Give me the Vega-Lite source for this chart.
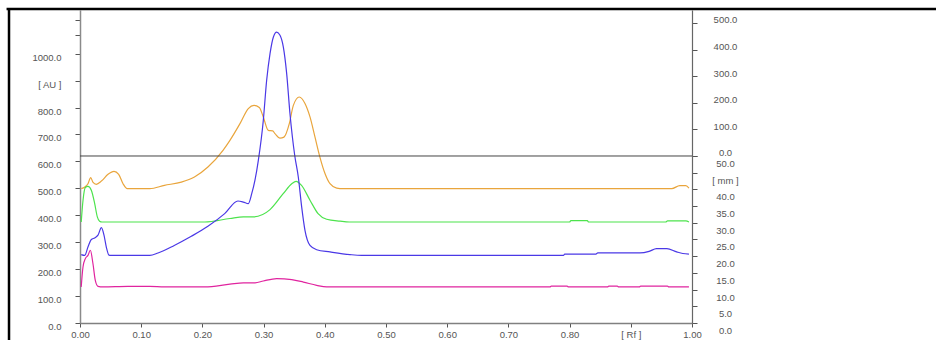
{
  "$schema": "https://vega.github.io/schema/vega-lite/v6.json",
  "width": 612,
  "height": 313,
  "autosize": "none",
  "padding": {"left": 80, "top": 10, "right": 244, "bottom": 17},
  "background": "white",
  "config": {
    "view": {"stroke": null},
    "axis": {"labelFont": "Liberation Sans", "labelFontSize": 9.5, "labelColor": "#555555", "grid": false, "title": null, "labelOverlap": false, "labelFlush": false, "labelBound": false, "tickColor": "#555555"}
  },
  "datasets": {
    "curves": [
      {"track": "orange", "rf": 0.002, "au": 499}, {"track": "orange", "rf": 0.008, "au": 505}, {"track": "orange", "rf": 0.013, "au": 517}, {"track": "orange", "rf": 0.0175, "au": 540}, {"track": "orange", "rf": 0.021, "au": 523}, {"track": "orange", "rf": 0.0267, "au": 515}, {"track": "orange", "rf": 0.035, "au": 527}, {"track": "orange", "rf": 0.0458, "au": 552}, {"track": "orange", "rf": 0.0556, "au": 563}, {"track": "orange", "rf": 0.0632, "au": 552}, {"track": "orange", "rf": 0.0703, "au": 517}, {"track": "orange", "rf": 0.0773, "au": 499}, {"track": "orange", "rf": 0.114, "au": 499}, {"track": "orange", "rf": 0.138, "au": 511}, {"track": "orange", "rf": 0.1656, "au": 523}, {"track": "orange", "rf": 0.187, "au": 542}, {"track": "orange", "rf": 0.209, "au": 579}, {"track": "orange", "rf": 0.2337, "au": 641}, {"track": "orange", "rf": 0.245, "au": 678}, {"track": "orange", "rf": 0.2614, "au": 740}, {"track": "orange", "rf": 0.275, "au": 796}, {"track": "orange", "rf": 0.2843, "au": 808}, {"track": "orange", "rf": 0.293, "au": 800}, {"track": "orange", "rf": 0.2995, "au": 765}, {"track": "orange", "rf": 0.3077, "au": 715}, {"track": "orange", "rf": 0.3148, "au": 713}, {"track": "orange", "rf": 0.3186, "au": 703}, {"track": "orange", "rf": 0.3268, "au": 686}, {"track": "orange", "rf": 0.3333, "au": 690}, {"track": "orange", "rf": 0.342, "au": 740}, {"track": "orange", "rf": 0.3486, "au": 808}, {"track": "orange", "rf": 0.3583, "au": 839}, {"track": "orange", "rf": 0.3676, "au": 815}, {"track": "orange", "rf": 0.3758, "au": 765}, {"track": "orange", "rf": 0.384, "au": 690}, {"track": "orange", "rf": 0.392, "au": 616}, {"track": "orange", "rf": 0.4003, "au": 555}, {"track": "orange", "rf": 0.4085, "au": 517}, {"track": "orange", "rf": 0.4194, "au": 501}, {"track": "orange", "rf": 0.43, "au": 499}, {"track": "orange", "rf": 0.967, "au": 499}, {"track": "orange", "rf": 0.98, "au": 510}, {"track": "orange", "rf": 0.99, "au": 510}, {"track": "orange", "rf": 0.995, "au": 501},
      {"track": "green", "rf": 0.002, "au": 375}, {"track": "green", "rf": 0.0049, "au": 455}, {"track": "green", "rf": 0.0087, "au": 503}, {"track": "green", "rf": 0.013, "au": 507}, {"track": "green", "rf": 0.0185, "au": 493}, {"track": "green", "rf": 0.024, "au": 443}, {"track": "green", "rf": 0.0283, "au": 394}, {"track": "green", "rf": 0.032, "au": 378}, {"track": "green", "rf": 0.036, "au": 375}, {"track": "green", "rf": 0.204, "au": 375}, {"track": "green", "rf": 0.245, "au": 388}, {"track": "green", "rf": 0.267, "au": 394}, {"track": "green", "rf": 0.283, "au": 394}, {"track": "green", "rf": 0.3105, "au": 421}, {"track": "green", "rf": 0.332, "au": 480}, {"track": "green", "rf": 0.346, "au": 517}, {"track": "green", "rf": 0.353, "au": 526}, {"track": "green", "rf": 0.362, "au": 511}, {"track": "green", "rf": 0.376, "au": 455}, {"track": "green", "rf": 0.389, "au": 406}, {"track": "green", "rf": 0.403, "au": 385}, {"track": "green", "rf": 0.425, "au": 378}, {"track": "green", "rf": 0.44, "au": 375}, {"track": "green", "rf": 0.8, "au": 375}, {"track": "green", "rf": 0.802, "au": 380}, {"track": "green", "rf": 0.829, "au": 380}, {"track": "green", "rf": 0.831, "au": 375}, {"track": "green", "rf": 0.957, "au": 375}, {"track": "green", "rf": 0.96, "au": 379}, {"track": "green", "rf": 0.99, "au": 379}, {"track": "green", "rf": 0.995, "au": 375},
      {"track": "blue", "rf": 0.002, "au": 254}, {"track": "blue", "rf": 0.0077, "au": 251}, {"track": "blue", "rf": 0.013, "au": 282}, {"track": "blue", "rf": 0.0185, "au": 310}, {"track": "blue", "rf": 0.024, "au": 316}, {"track": "blue", "rf": 0.0294, "au": 326}, {"track": "blue", "rf": 0.035, "au": 354}, {"track": "blue", "rf": 0.0392, "au": 326}, {"track": "blue", "rf": 0.043, "au": 282}, {"track": "blue", "rf": 0.0474, "au": 252}, {"track": "blue", "rf": 0.05, "au": 251}, {"track": "blue", "rf": 0.114, "au": 251}, {"track": "blue", "rf": 0.1275, "au": 260}, {"track": "blue", "rf": 0.154, "au": 288}, {"track": "blue", "rf": 0.1819, "au": 322}, {"track": "blue", "rf": 0.209, "au": 359}, {"track": "blue", "rf": 0.2364, "au": 406}, {"track": "blue", "rf": 0.258, "au": 453}, {"track": "blue", "rf": 0.267, "au": 449}, {"track": "blue", "rf": 0.275, "au": 443}, {"track": "blue", "rf": 0.2806, "au": 480}, {"track": "blue", "rf": 0.2859, "au": 530}, {"track": "blue", "rf": 0.2914, "au": 604}, {"track": "blue", "rf": 0.2995, "au": 752}, {"track": "blue", "rf": 0.305, "au": 901}, {"track": "blue", "rf": 0.3105, "au": 1000}, {"track": "blue", "rf": 0.316, "au": 1062}, {"track": "blue", "rf": 0.3214, "au": 1080}, {"track": "blue", "rf": 0.3268, "au": 1068}, {"track": "blue", "rf": 0.3322, "au": 1025}, {"track": "blue", "rf": 0.3377, "au": 926}, {"track": "blue", "rf": 0.3431, "au": 777}, {"track": "blue", "rf": 0.351, "au": 620}, {"track": "blue", "rf": 0.3567, "au": 542}, {"track": "blue", "rf": 0.3622, "au": 431}, {"track": "blue", "rf": 0.3676, "au": 344}, {"track": "blue", "rf": 0.3758, "au": 288}, {"track": "blue", "rf": 0.3867, "au": 272}, {"track": "blue", "rf": 0.4085, "au": 264}, {"track": "blue", "rf": 0.441, "au": 254}, {"track": "blue", "rf": 0.46, "au": 251}, {"track": "blue", "rf": 0.79, "au": 251}, {"track": "blue", "rf": 0.792, "au": 256}, {"track": "blue", "rf": 0.843, "au": 256}, {"track": "blue", "rf": 0.846, "au": 260}, {"track": "blue", "rf": 0.915, "au": 260}, {"track": "blue", "rf": 0.93, "au": 266}, {"track": "blue", "rf": 0.942, "au": 276}, {"track": "blue", "rf": 0.959, "au": 276}, {"track": "blue", "rf": 0.975, "au": 264}, {"track": "blue", "rf": 0.985, "au": 258}, {"track": "blue", "rf": 0.995, "au": 256},
      {"track": "magenta", "rf": 0.002, "au": 134}, {"track": "magenta", "rf": 0.0049, "au": 208}, {"track": "magenta", "rf": 0.0087, "au": 239}, {"track": "magenta", "rf": 0.013, "au": 251}, {"track": "magenta", "rf": 0.0169, "au": 270}, {"track": "magenta", "rf": 0.0212, "au": 220}, {"track": "magenta", "rf": 0.025, "au": 158}, {"track": "magenta", "rf": 0.0294, "au": 136}, {"track": "magenta", "rf": 0.0376, "au": 134}, {"track": "magenta", "rf": 0.078, "au": 136}, {"track": "magenta", "rf": 0.114, "au": 136}, {"track": "magenta", "rf": 0.138, "au": 134}, {"track": "magenta", "rf": 0.204, "au": 134}, {"track": "magenta", "rf": 0.245, "au": 144}, {"track": "magenta", "rf": 0.267, "au": 149}, {"track": "magenta", "rf": 0.286, "au": 149}, {"track": "magenta", "rf": 0.2995, "au": 156}, {"track": "magenta", "rf": 0.3214, "au": 165}, {"track": "magenta", "rf": 0.346, "au": 161}, {"track": "magenta", "rf": 0.3649, "au": 152}, {"track": "magenta", "rf": 0.3867, "au": 140}, {"track": "magenta", "rf": 0.403, "au": 134}, {"track": "magenta", "rf": 0.768, "au": 134}, {"track": "magenta", "rf": 0.77, "au": 137}, {"track": "magenta", "rf": 0.796, "au": 137}, {"track": "magenta", "rf": 0.798, "au": 134}, {"track": "magenta", "rf": 0.862, "au": 134}, {"track": "magenta", "rf": 0.864, "au": 137}, {"track": "magenta", "rf": 0.878, "au": 137}, {"track": "magenta", "rf": 0.88, "au": 134}, {"track": "magenta", "rf": 0.914, "au": 134}, {"track": "magenta", "rf": 0.916, "au": 137}, {"track": "magenta", "rf": 0.96, "au": 137}, {"track": "magenta", "rf": 0.962, "au": 134}, {"track": "magenta", "rf": 0.995, "au": 134}
    ]
  },
  "layer": [
    {
      "data": {"name": "curves"},
      "mark": {"type": "line", "interpolate": "monotone", "strokeWidth": 1.2, "clip": false},
      "encoding": {
        "x": {"field": "rf", "type": "quantitative", "scale": {"domain": [0, 1], "nice": false, "zero": false},
          "axis": {"orient": "bottom", "values": [0, 0.1, 0.2, 0.3, 0.4, 0.5, 0.6, 0.7, 0.8, 0.9, 1], "labelExpr": "abs(datum.value - 0.9) < 0.001 ? '[ Rf ]' : format(datum.value, '.2f')", "tickSize": 4, "labelPadding": 2, "domainColor": "#808080", "domainWidth": 1.5}},
        "y": {"field": "au", "type": "quantitative", "scale": {"domain": [0, 1162], "nice": false, "zero": false},
          "axis": {"orient": "left", "values": [0, 100, 200, 300, 400, 500, 600, 700, 800, 900, 1000, 1068, 1124], "labelExpr": "datum.value > 1001 ? '' : (datum.value == 900 ? '[ AU ]' : format(datum.value, '.1f'))", "tickSize": 5, "labelPadding": 14, "labelOffset": 3.5, "domainColor": "#8a8a8a", "domainWidth": 1.5}},
        "color": {"field": "track", "type": "nominal", "scale": {"domain": ["orange", "green", "blue", "magenta"], "range": ["#E9A53C", "#4DE34D", "#4A38E6", "#E0249F"]}, "legend": null}
      }
    },
    {
      "data": {"values": [{}]},
      "mark": {"type": "rule", "color": "#444444", "strokeWidth": 1},
      "encoding": {
        "y": {"datum": 620, "type": "quantitative", "scale": {"domain": [0, 1162], "nice": false, "zero": false},
          "axis": {"orient": "right", "values": [0, 62, 124, 186, 248, 310, 372, 434, 496, 558, 619.9, 620, 718.8, 817.6, 916.4, 1015.2, 1114], "labelExpr": "datum.value < 619.95 ? (abs(datum.value - 558) < 0.5 ? '[ mm ]' : format(datum.value / 12.4, '.1f')) : format((datum.value - 620) / 0.988, '.1f')", "labelAlign": "center", "tickSize": 5, "labelPadding": 28, "labelOffset": {"condition": {"test": "datum.value < 619.95", "value": 7.5}, "value": -3}, "domainColor": "#666666", "domainWidth": 1.2}}
      }
    },
    {
      "data": {"values": [{}]},
      "mark": {"type": "rule", "color": "black", "strokeWidth": 2.5, "clip": false},
      "encoding": {
        "x": {"datum": -0.116, "type": "quantitative", "scale": {"domain": [0, 1], "nice": false, "zero": false}},
        "y": {"datum": 1166, "type": "quantitative", "scale": {"domain": [0, 1162], "nice": false, "zero": false}, "axis": null},
        "y2": {"datum": -120}
      }
    },
    {
      "data": {"values": [{}]},
      "mark": {"type": "rule", "color": "black", "strokeWidth": 2.5, "clip": false},
      "encoding": {
        "x": {"datum": -0.12, "type": "quantitative", "scale": {"domain": [0, 1], "nice": false, "zero": false}},
        "x2": {"datum": 1.6},
        "y": {"datum": 1166, "type": "quantitative", "scale": {"domain": [0, 1162], "nice": false, "zero": false}, "axis": null}
      }
    }
  ],
  "resolve": {"scale": {"y": "independent"}, "axis": {"y": "independent"}}
}
